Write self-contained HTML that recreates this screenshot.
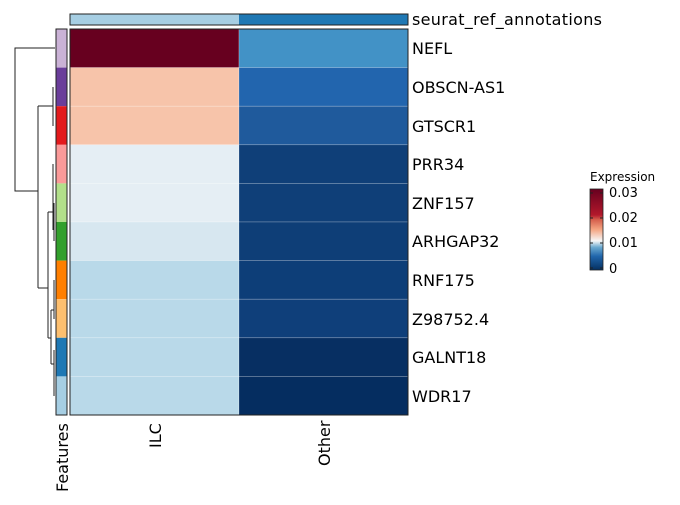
<!DOCTYPE html><html><head><style>body{margin:0;background:#fff}</style></head><body>
<svg width="680" height="500" xmlns="http://www.w3.org/2000/svg" font-family="DejaVu Sans, Liberation Sans, sans-serif">
<defs><linearGradient id="g" x1="0" y1="1" x2="0" y2="0">
<stop offset="0" stop-color="#053061"/><stop offset="0.17" stop-color="#2166ac"/><stop offset="0.28" stop-color="#6aa9d0"/><stop offset="0.36" stop-color="#f7f7f7"/><stop offset="0.5" stop-color="#f4a582"/><stop offset="0.62" stop-color="#d6604d"/><stop offset="0.68" stop-color="#b2182b"/><stop offset="1" stop-color="#67001f"/></linearGradient></defs>
<rect x="70" y="14" width="169" height="11" fill="#a6cee3"/><rect x="239" y="14" width="169" height="11" fill="#1f78b4"/>
<rect x="70" y="14" width="338" height="11" fill="none" stroke="#222" stroke-width="1"/>
<text x="412" y="25" font-size="16" textLength="190">seurat_ref_annotations</text>
<g stroke="#ffffff" stroke-opacity="0.35" stroke-width="0.6">
<rect x="70" y="29" width="169" height="38.6" fill="#67001f"/><rect x="239" y="29" width="169" height="38.6" fill="#4292c6"/>
<rect x="70" y="67.6" width="169" height="38.6" fill="#f7c4aa"/><rect x="239" y="67.6" width="169" height="38.6" fill="#2265ae"/>
<rect x="70" y="106.2" width="169" height="38.6" fill="#f7c4aa"/><rect x="239" y="106.2" width="169" height="38.6" fill="#1f5a9c"/>
<rect x="70" y="144.8" width="169" height="38.6" fill="#e5eef4"/><rect x="239" y="144.8" width="169" height="38.6" fill="#0f3f78"/>
<rect x="70" y="183.4" width="169" height="38.6" fill="#e5eef4"/><rect x="239" y="183.4" width="169" height="38.6" fill="#0f3f78"/>
<rect x="70" y="222" width="169" height="38.6" fill="#d7e7f0"/><rect x="239" y="222" width="169" height="38.6" fill="#0e3e77"/>
<rect x="70" y="260.6" width="169" height="38.6" fill="#b9d9e9"/><rect x="239" y="260.6" width="169" height="38.6" fill="#0d3e78"/>
<rect x="70" y="299.2" width="169" height="38.6" fill="#b9d9e9"/><rect x="239" y="299.2" width="169" height="38.6" fill="#0f3f7a"/>
<rect x="70" y="337.8" width="169" height="38.6" fill="#b9d9e9"/><rect x="239" y="337.8" width="169" height="38.6" fill="#072f62"/>
<rect x="70" y="376.4" width="169" height="38.6" fill="#b9d9e9"/><rect x="239" y="376.4" width="169" height="38.6" fill="#052d60"/>
</g>
<rect x="70" y="29" width="338" height="386" fill="none" stroke="#222" stroke-width="1"/>
<g font-size="16">
<text x="412" y="54">NEFL</text><text x="412" y="93">OBSCN-AS1</text><text x="412" y="132">GTSCR1</text><text x="412" y="170">PRR34</text><text x="412" y="209">ZNF157</text><text x="412" y="247">ARHGAP32</text><text x="412" y="286">RNF175</text><text x="412" y="325">Z98752.4</text><text x="412" y="363">GALNT18</text><text x="412" y="402">WDR17</text>
<text transform="translate(161,448) rotate(-90)">ILC</text>
<text transform="translate(330,466) rotate(-90)">Other</text>
<text transform="translate(68,492) rotate(-90)">Features</text>
</g>
<g>
<rect x="56" y="29" width="11" height="38.6" fill="#cab2d6"/><rect x="56" y="67.6" width="11" height="38.6" fill="#6a3d9a"/><rect x="56" y="106.2" width="11" height="38.6" fill="#e31a1c"/><rect x="56" y="144.8" width="11" height="38.6" fill="#fb9a99"/><rect x="56" y="183.4" width="11" height="38.6" fill="#b2df8a"/><rect x="56" y="222" width="11" height="38.6" fill="#33a02c"/><rect x="56" y="260.6" width="11" height="38.6" fill="#ff7f00"/><rect x="56" y="299.2" width="11" height="38.6" fill="#fdbf6f"/><rect x="56" y="337.8" width="11" height="38.6" fill="#1f78b4"/><rect x="56" y="376.4" width="11" height="38.6" fill="#a6cee3"/>
<rect x="56" y="29" width="11" height="386" fill="none" stroke="#222"/>
</g>
<g stroke="#222" fill="none" stroke-width="1">
<path d="M55 48H15V191H38"/>
<path d="M38 106V288"/>
<path d="M38 106H53M53 87V126"/>
<path d="M38 288H48M48 212V338"/>
<path d="M48 212H53M53 164V230M53 222H54M54 203V241"/>
<path d="M48 338H51M51 310V364M51 310H54M54 280V319M51 364H54M54 350V396"/>
</g>
<text x="590" y="181" font-size="12">Expression</text>
<rect x="590" y="189" width="13" height="81" fill="url(#g)" stroke="#222" stroke-width="0.8"/>
<g stroke="#222"><path d="M590 193h3M600 193h3M590 218h3M600 218h3M590 243h3M600 243h3M590 268h3M600 268h3"/></g>
<g font-size="13"><text x="609" y="197">0.03</text><text x="609" y="222">0.02</text><text x="609" y="247">0.01</text><text x="609" y="273">0</text></g>
</svg></body></html>
